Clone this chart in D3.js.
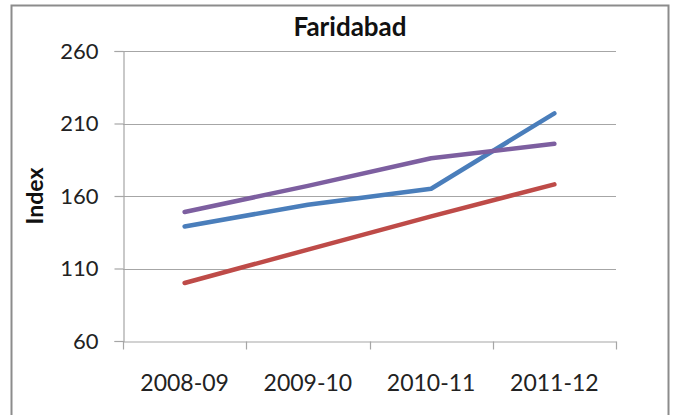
<!DOCTYPE html>
<html>
<head>
<meta charset="utf-8">
<script src="https://cdn.jsdelivr.net/npm/d3@7"></script>
<style>
  body { margin: 0; background: #fff; }
  svg { display: block; font-family: Lato, "Open Sans", sans-serif; }
</style>
</head>
<body>
<svg width="675" height="415"></svg>
<script>
// Chart data.
const categories = ["2008-09", "2009-10", "2010-11", "2011-12"];
const blueValues = [139, 154, 165, 217];
const redValues = [100, 123, 146, 168];
const purpleValues = [149, 167, 186, 196];
const yTicks = [60, 110, 160, 210, 260];

const series = [
  { name: "blue", values: blueValues, color: "#4a7ebb" },
  { name: "red", values: redValues, color: "#be4b48" },
  { name: "purple", values: purpleValues, color: "#7d5fa0" },
];

const svg = d3.select("svg");
const margin = { left: 123, right: 60, top: 51, bottom: 74 };
const width = 675, height = 415;

// Outer frame.
svg.append("rect")
  .attr("x", 11.5).attr("y", 5.5)
  .attr("width", 657).attr("height", 420)
  .attr("fill", "#fff")
  .attr("stroke", "#8c8c8c").attr("stroke-width", 2);

const x = d3.scaleBand()
  .domain(categories)
  .range([margin.left, width - margin.right + 1]);

const y = d3.scaleLinear()
  .domain([60, 260])
  .range([height - margin.bottom, margin.top]);

// Gridlines.
svg.append("g")
  .selectAll("line")
  .data(yTicks.slice(1))
  .join("line")
  .attr("x1", margin.left).attr("x2", x.range()[1])
  .attr("y1", (d) => Math.round(y(d)) + 0.5)
  .attr("y2", (d) => Math.round(y(d)) + 0.5)
  .attr("stroke", "#a6a6a6").attr("stroke-width", 1.2);

// Y axis.
const yAxis = svg.append("g")
  .attr("transform", `translate(${margin.left + 0.5},0)`)
  .call(d3.axisLeft(y).tickValues(yTicks).tickSize(9).tickPadding(16));
yAxis.selectAll("text").attr("font-size", 22).attr("fill", "#222").attr("font-family", "Lato, sans-serif");

// X axis.
const xAxis = svg.append("g")
  .attr("transform", `translate(0,${height - margin.bottom + 0.5})`)
  .call(d3.axisBottom(x).tickSize(0));
xAxis.selectAll("text")
  .attr("y", 49).attr("dy", 0)
  .attr("font-size", 23).attr("fill", "#222").attr("font-family", "Lato, sans-serif");
xAxis.selectAll(".xtick")
  .data([...categories.map((c) => x(c)), x.range()[1]])
  .join("line")
  .attr("class", "xtick")
  .attr("x1", (d) => Math.round(d) + 0.5).attr("x2", (d) => Math.round(d) + 0.5)
  .attr("y1", 0).attr("y2", 8)
  .attr("stroke", "#a6a6a6").attr("stroke-width", 1.2);

svg.selectAll(".domain, .tick line").attr("stroke", "#a6a6a6").attr("stroke-width", 1.2);

// Lines.
const line = d3.line()
  .x((d, i) => x(categories[i]) + x.bandwidth() / 2)
  .y((d) => y(d));

svg.append("g")
  .selectAll("path")
  .data(series)
  .join("path")
  .attr("d", (s) => line(s.values))
  .attr("fill", "none")
  .attr("stroke", (s) => s.color)
  .attr("stroke-width", 4.5)
  .attr("stroke-linecap", "round")
  .attr("stroke-linejoin", "round");

// Title and axis label.
svg.append("text")
  .attr("x", 350).attr("y", 36)
  .attr("text-anchor", "middle")
  .attr("font-size", 26).attr("font-weight", "bold").attr("fill", "#111")
  .text("Faridabad");

svg.append("text")
  .attr("transform", "translate(43,196) rotate(-90)")
  .attr("text-anchor", "middle")
  .attr("font-size", 23).attr("font-weight", "bold").attr("fill", "#111")
  .text("Index");
</script>
</body>
</html>
